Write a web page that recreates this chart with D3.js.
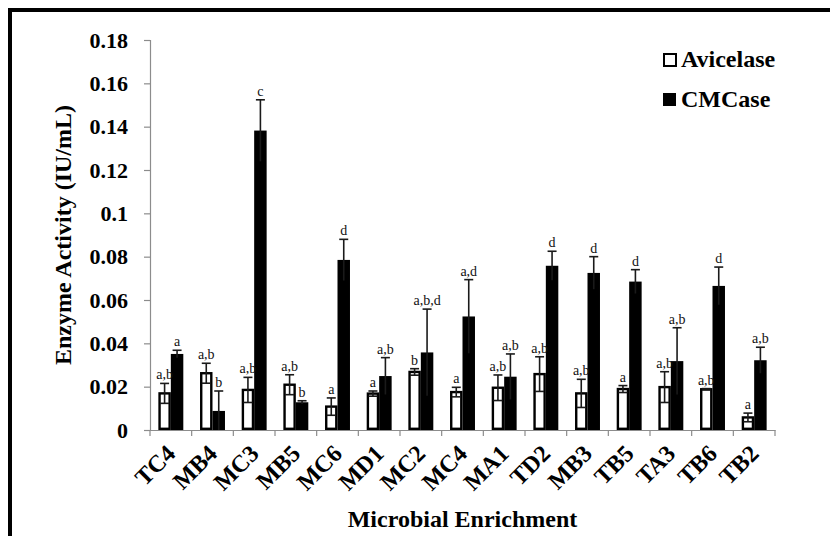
<!DOCTYPE html>
<html>
<head>
<meta charset="utf-8">
<script src="https://cdn.jsdelivr.net/npm/d3@7"></script>
<style>
  body { margin: 0; background: #fff; }
</style>
</head>
<body>
<div id="chart"></div>
<script>
// data
var categories = ["TC4", "MB4", "MC3", "MB5", "MC6", "MD1", "MC2", "MC4", "MA1", "TD2", "MB3", "TB5", "TA3", "TB6", "TB2"];
var seriesNames = ["Avicelase", "CMCase"];
var avicelase = [0.0169, 0.0262, 0.0185, 0.0209, 0.0108, 0.0168, 0.0268, 0.0175, 0.0195, 0.0258, 0.0169, 0.0189, 0.0198, 0.0188, 0.0058];
var avicelaseErr = [0.0046, 0.0046, 0.0058, 0.0046, 0.004, 0.0012, 0.0015, 0.0022, 0.0059, 0.008, 0.0065, 0.0016, 0.0071, 0.0003, 0.002];
var cmcase = [0.0351, 0.0088, 0.1382, 0.0128, 0.0785, 0.0249, 0.0358, 0.0524, 0.0246, 0.0758, 0.0725, 0.0685, 0.0318, 0.0665, 0.0322];
var cmcaseErr = [0.0017, 0.0092, 0.0142, 0.0007, 0.0095, 0.0085, 0.02, 0.017, 0.0105, 0.0067, 0.0075, 0.0055, 0.0154, 0.0087, 0.006];
var avicelaseLetters = ["a,b", "a,b", "a,b", "a,b", "a", "a", "b", "a", "a,b", "a,b", "a,b", "a", "a,b", "a,b", "a"];
var cmcaseLetters = ["a", "b", "c", "b", "d", "a,b", "a,b,d", "a,d", "a,b", "d", "d", "d", "a,b", "d", "a,b"];
var yTicks = [0, 0.02, 0.04, 0.06, 0.08, 0.1, 0.12, 0.14, 0.16, 0.18];
var yTickLabels = ["0", "0.02", "0.04", "0.06", "0.08", "0.1", "0.12", "0.14", "0.16", "0.18"];

var svgWidth = 830;
var svgHeight = 536;
var plot = { left: 150, right: 775, top: 40, bottom: 430 };
var serif = "Liberation Serif";

var svg = d3.select("#chart")
  .append("svg")
  .attr("width", svgWidth)
  .attr("height", svgHeight)
  .attr("font-family", serif);

// outer frame (runs off the right and bottom edges)
svg.append("rect")
  .attr("x", 10).attr("y", 10)
  .attr("width", 840).attr("height", 560)
  .attr("fill", "none")
  .attr("stroke", "#000")
  .attr("stroke-width", 4);

var x0 = d3.scaleBand().domain(categories).range([plot.left, plot.right]).padding(0);
var x1 = d3.scaleBand().domain(seriesNames).range([0, x0.bandwidth()]).paddingInner(0).paddingOuter(0.67);
var y = d3.scaleLinear().domain([0, 0.18]).range([plot.bottom, plot.top]);

// build rows for the bars
var rows = [];
categories.forEach(function(c, i) {
  rows.push({ cat: c, series: "Avicelase", value: avicelase[i], err: avicelaseErr[i], letter: avicelaseLetters[i] });
  rows.push({ cat: c, series: "CMCase", value: cmcase[i], err: cmcaseErr[i], letter: cmcaseLetters[i] });
});

// y axis
var yAxis = d3.axisLeft(y)
  .tickValues(yTicks)
  .tickSize(6)
  .tickPadding(16)
  .tickFormat(function(d, i) { return yTickLabels[i]; });

var yg = svg.append("g")
  .attr("transform", `translate(${plot.left}, 0)`)
  .call(yAxis)
  .attr("font-family", serif);
yg.select(".domain").attr("stroke", "#8c8c8c").attr("stroke-width", 1.2);
yg.selectAll(".tick line").attr("stroke", "#8c8c8c").attr("stroke-width", 1.2);
yg.selectAll(".tick text")
  .attr("font-family", serif)
  .attr("font-weight", "bold")
  .attr("font-size", 22)
  .attr("fill", "#000");

// x axis
var xAxis = d3.axisBottom(x0).tickSize(0).tickSizeOuter(0);
var xg = svg.append("g")
  .attr("transform", `translate(0, ${plot.bottom})`)
  .call(xAxis)
  .attr("font-family", serif);
xg.select(".domain").attr("stroke", "#8c8c8c").attr("stroke-width", 1.2);
xg.selectAll(".tick text")
  .attr("y", 0)
  .attr("dy", 0)
  .attr("text-anchor", "end")
  .attr("transform", "translate(6, 25) rotate(-45)")
  .attr("font-family", serif)
  .attr("font-weight", "bold")
  .attr("font-size", 24)
  .attr("fill", "#000");

// category boundary ticks
xg.append("g")
  .selectAll("line")
  .data(categories.concat(["end"]))
  .enter()
  .append("line")
  .attr("x1", d => d === "end" ? plot.right : x0(d))
  .attr("x2", d => d === "end" ? plot.right : x0(d))
  .attr("y1", 0)
  .attr("y2", 6)
  .attr("stroke", "#8c8c8c")
  .attr("stroke-width", 1.2);

// bars
var barX = d => x0(d.cat) + x1(d.series);
svg.append("g")
  .selectAll("rect")
  .data(rows)
  .enter()
  .append("rect")
  .attr("x", d => d.series === "Avicelase" ? barX(d) + 1.2 : barX(d))
  .attr("y", d => y(d.value))
  .attr("width", d => d.series === "Avicelase" ? x1.bandwidth() - 2.4 : x1.bandwidth())
  .attr("height", d => y(0) - y(d.value) - (d.series === "Avicelase" ? 1.2 : 0))
  .attr("fill", d => d.series === "Avicelase" ? "#fff" : "#000")
  .attr("stroke", d => d.series === "Avicelase" ? "#000" : "none")
  .attr("stroke-width", 2.4);

// error bars
var errG = svg.append("g").attr("stroke", "#1a1a1a").attr("stroke-width", 1.6);
var cx = d => barX(d) + x1.bandwidth() / 2;
errG.selectAll(".stem")
  .data(rows)
  .enter()
  .append("line")
  .attr("x1", cx).attr("x2", cx)
  .attr("y1", d => y(d.value + d.err))
  .attr("y2", d => y(Math.max(0, d.value - d.err)));
errG.selectAll(".capTop")
  .data(rows)
  .enter()
  .append("line")
  .attr("x1", d => cx(d) - 4.5).attr("x2", d => cx(d) + 4.5)
  .attr("y1", d => y(d.value + d.err))
  .attr("y2", d => y(d.value + d.err));
errG.selectAll(".capBottom")
  .data(rows.filter(d => d.series === "Avicelase"))
  .enter()
  .append("line")
  .attr("x1", d => cx(d) - 4.5).attr("x2", d => cx(d) + 4.5)
  .attr("y1", d => y(Math.max(0, d.value - d.err)))
  .attr("y2", d => y(Math.max(0, d.value - d.err)));

// significance letters
svg.append("g")
  .attr("text-anchor", "middle")
  .attr("font-family", serif)
  .attr("font-size", 14)
  .attr("fill", "#111")
  .selectAll("text")
  .data(rows)
  .enter()
  .append("text")
  .attr("x", cx)
  .attr("y", d => y(d.value + d.err) - 4)
  .text(d => d.letter);

// axis titles
svg.append("text")
  .attr("x", (plot.left + plot.right) / 2)
  .attr("y", 527)
  .attr("text-anchor", "middle")
  .attr("font-family", serif)
  .attr("font-weight", "bold")
  .attr("font-size", 24)
  .text("Microbial Enrichment");

svg.append("text")
  .attr("transform", `translate(71, ${(plot.top + plot.bottom) / 2}) rotate(-90)`)
  .attr("text-anchor", "middle")
  .attr("font-family", serif)
  .attr("font-weight", "bold")
  .attr("font-size", 24)
  .text("Enzyme Activity (IU/mL)");

// legend
var legend = svg.append("g")
  .selectAll("g")
  .data(seriesNames)
  .enter()
  .append("g")
  .attr("transform", (d, i) => `translate(663, ${53 + i * 40})`);
legend.append("rect")
  .attr("x", d => d === "Avicelase" ? 1 : 0)
  .attr("y", d => d === "Avicelase" ? 1 : 0)
  .attr("width", d => d === "Avicelase" ? 12 : 13)
  .attr("height", d => d === "Avicelase" ? 12 : 13)
  .attr("fill", d => d === "Avicelase" ? "#fff" : "#000")
  .attr("stroke", d => d === "Avicelase" ? "#000" : "none")
  .attr("stroke-width", 2);
legend.append("text")
  .attr("x", 18)
  .attr("y", 14)
  .attr("font-family", serif)
  .attr("font-weight", "bold")
  .attr("font-size", 24)
  .text(d => d);
</script>
</body>
</html>
